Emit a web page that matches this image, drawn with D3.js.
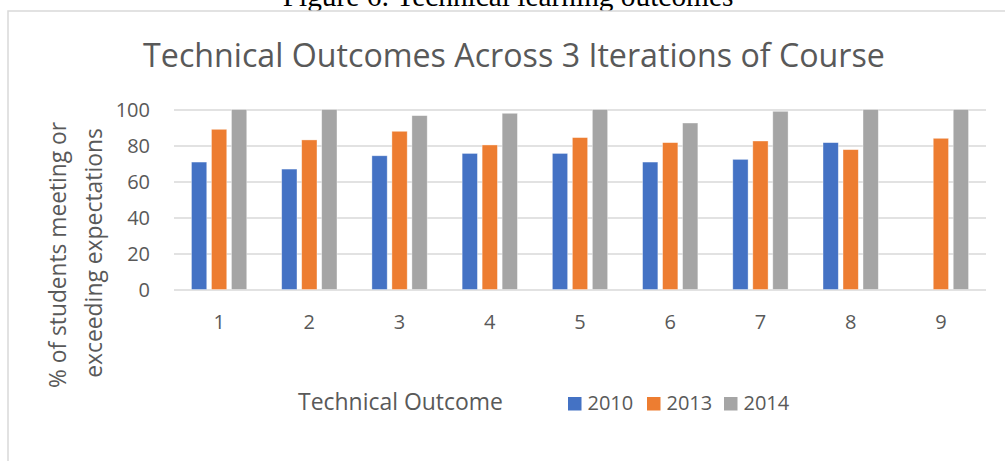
<!DOCTYPE html>
<html>
<head>
<meta charset="utf-8">
<script src="https://cdn.jsdelivr.net/npm/d3@7"></script>
<style>
  html, body { margin: 0; padding: 0; background: #fff; overflow: hidden; }
  svg { display: block; }
</style>
</head>
<body>
<svg id="chart" width="1005" height="461"></svg>
<script>
// ---- Data ----
const categories = ["1", "2", "3", "4", "5", "6", "7", "8", "9"];
const seriesNames = ["2010", "2013", "2014"];
const values2010 = [70.8, 66.9, 74.3, 75.6, 75.6, 70.8, 72.3, 81.6, null];
const values2013 = [89.0, 83.1, 87.9, 80.3, 84.4, 81.6, 82.5, 77.7, 84.0];
const values2014 = [100, 100, 96.6, 97.9, 100, 92.5, 99.0, 100, 100];
const yTicks = [0, 20, 40, 60, 80, 100];
const titleText = "Technical Outcomes Across 3 Iterations of Course";
const captionText = "Figure 6: Technical learning outcomes";
const yTitleLines = ["% of students meeting or", "exceeding expectations"];
const xTitleText = "Technical Outcome";

const seriesValues = [values2010, values2013, values2014];
const colors = ["#4472C4", "#ED7D31", "#A5A5A5"];
const textColor = "#595959";
const font = "'Open Sans', 'Noto Sans', sans-serif";

const svg = d3.select("#chart");

function fitWidth(sel, target) {
  const w = sel.node().getComputedTextLength();
  const fs = parseFloat(sel.attr("font-size"));
  sel.attr("font-size", fs * target / w);
}

// caption (cut off at top)
const cap = svg.append("text")
  .attr("x", 508).attr("y", 6)
  .attr("text-anchor", "middle")
  .attr("font-family", "'Liberation Serif', 'Times New Roman', serif")
  .attr("font-size", 27)
  .attr("fill", "#000")
  .text(captionText);
fitWidth(cap, 451);

// chart frame
svg.append("rect")
  .attr("x", 8).attr("y", 11)
  .attr("width", 1100).attr("height", 500)
  .attr("fill", "#fff")
  .attr("stroke", "#d9d9d9")
  .attr("stroke-width", 1.5);

// scales
const x0 = d3.scaleBand().domain(categories).range([174, 986]).paddingInner(0).paddingOuter(0);
const x1 = d3.scaleBand().domain(seriesNames).range([-27.65, 27.65]).paddingInner(0.235).paddingOuter(0);
const y = d3.scaleLinear().domain([0, 100]).range([289.5, 109.5]);

// gridlines
const yAxis = d3.axisLeft(y).tickValues(yTicks).tickSize(-(986 - 174)).tickFormat(d3.format("d"));
const gy = svg.append("g").attr("transform", "translate(174,0)").call(yAxis);
gy.select(".domain").remove();
gy.selectAll(".tick line").attr("stroke", "#d9d9d9").attr("stroke-width", 1.5);
gy.selectAll(".tick text")
  .attr("x", -24)
  .attr("dy", "0.35em")
  .attr("font-family", font)
  .attr("font-size", 20)
  .attr("fill", textColor);

// bars
const groups = svg.append("g").selectAll("g")
  .data(categories)
  .join("g")
  .attr("transform", d => `translate(${x0(d) + x0.bandwidth() / 2},0)`);

groups.selectAll("rect")
  .data((d, i) => seriesNames.map((s, j) => ({ s, j, v: seriesValues[j][i] })).filter(e => e.v != null))
  .join("rect")
  .attr("x", e => x1(e.s))
  .attr("width", x1.bandwidth())
  .attr("y", e => y(e.v))
  .attr("height", e => y(0) - y(e.v))
  .attr("fill", e => colors[e.j])
  .attr("stroke", "#ffffff")
  .attr("stroke-opacity", 0.5)
  .attr("stroke-width", 0.75);

// x axis labels
const xAxis = d3.axisBottom(x0).tickSize(0).tickPadding(0);
const gx = svg.append("g").attr("transform", "translate(0,289.5)").call(xAxis);
gx.select(".domain").remove();
gx.selectAll(".tick text")
  .attr("y", 39)
  .attr("dy", 0)
  .attr("font-family", font)
  .attr("font-size", 20)
  .attr("fill", textColor);

// title
const title = svg.append("text")
  .attr("x", 514).attr("y", 67)
  .attr("text-anchor", "middle")
  .attr("font-family", font)
  .attr("font-size", 34)
  .attr("fill", textColor)
  .text(titleText);
fitWidth(title, 742);

// y title
const yPos = [[66, 255, 266], [102, 253, 250]];
yTitleLines.forEach((line, i) => {
  const t = svg.append("text")
    .attr("transform", `translate(${yPos[i][0]},${yPos[i][1]}) rotate(-90)`)
    .attr("text-anchor", "middle")
    .attr("font-family", font)
    .attr("font-size", 22)
    .attr("fill", textColor)
    .text(line);
  fitWidth(t, yPos[i][2]);
});

// x title
const xt = svg.append("text")
  .attr("x", 298).attr("y", 409.5)
  .attr("font-family", font)
  .attr("font-size", 24)
  .attr("fill", textColor)
  .text(xTitleText);
fitWidth(xt, 205);

// legend
const legendX = [568, 647, 724];
const legend = svg.append("g").selectAll("g")
  .data(seriesNames)
  .join("g")
  .attr("transform", (d, i) => `translate(${legendX[i]},0)`);
legend.append("rect")
  .attr("x", 0).attr("y", 397)
  .attr("width", 13.5).attr("height", 13.5)
  .attr("fill", (d, i) => colors[i]);
legend.append("text")
  .attr("x", 19.5).attr("y", 410)
  .attr("font-family", font)
  .attr("font-size", 20)
  .attr("fill", textColor)
  .text(d => d);
</script>
</body>
</html>
